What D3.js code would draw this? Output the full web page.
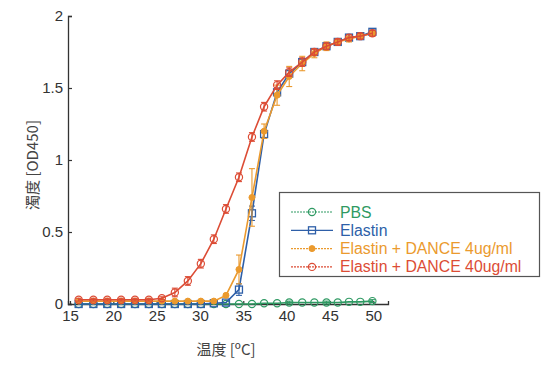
<!DOCTYPE html>
<html>
<head>
<meta charset="utf-8">
<script src="https://cdn.jsdelivr.net/npm/d3@7"></script>
<style>
  body { margin: 0; background: #fff; }
  svg { font-family: "Liberation Sans", Arial, sans-serif; }
</style>
</head>
<body>
<div id="chart"></div>
<script>
// temperature steps (°C)
const temps = [16, 17.7, 19.3, 20.9, 22.5, 24.1, 25.6, 27.1, 28.6, 30.1, 31.6, 33.0,
               34.5, 36.0, 37.4, 38.9, 40.3, 41.8, 43.2, 44.6, 45.9, 47.2, 48.5, 49.9];

const pbs = [0, 0, 0, 0, 0, 0, 0, 0, 0, 0, 0, 0,
             0, 0, 0.005, 0.005, 0.01, 0.01, 0.01, 0.01, 0.01, 0.015, 0.015, 0.02];
const pbsErr = [0, 0, 0, 0, 0, 0, 0, 0, 0, 0, 0, 0,
                0, 0, 0, 0, 0.01, 0, 0, 0.01, 0, 0, 0, 0.01];

const elastin = [0, 0, 0, 0, 0, 0, 0, 0, 0, 0, 0.005, 0.01,
                 0.1, 0.63, 1.18, 1.47, 1.6, 1.68, 1.75, 1.79, 1.82, 1.85, 1.86, 1.89];
const elastinErr = [0, 0, 0, 0, 0, 0, 0, 0, 0, 0, 0, 0,
                    0.04, 0.05, 0.03, 0.03, 0.02, 0.02, 0.02, 0.02, 0.02, 0.02, 0.02, 0.02];

const dance4 = [0.02, 0.02, 0.02, 0.02, 0.02, 0.02, 0.02, 0.02, 0.02, 0.02, 0.02, 0.06,
                0.24, 0.74, 1.2, 1.45, 1.58, 1.67, 1.74, 1.79, 1.82, 1.84, 1.86, 1.88];
const dance4Err = [0, 0, 0, 0, 0, 0, 0, 0, 0, 0, 0.01, 0.01,
                   0.1, 0.2, 0.05, 0.07, 0.07, 0.05, 0.03, 0.03, 0.02, 0.02, 0.02, 0.02];

const dance40 = [0.03, 0.03, 0.03, 0.03, 0.03, 0.03, 0.04, 0.08, 0.16, 0.28, 0.45, 0.66,
                 0.88, 1.16, 1.37, 1.52, 1.61, 1.68, 1.75, 1.79, 1.82, 1.85, 1.86, 1.88];
const dance40Err = [0.01, 0.01, 0.01, 0.01, 0.01, 0.01, 0.01, 0.03, 0.03, 0.03, 0.03, 0.03,
                    0.03, 0.03, 0.03, 0.03, 0.03, 0.03, 0.02, 0.02, 0.02, 0.02, 0.02, 0.02];

const xTicks = [15, 20, 25, 30, 35, 40, 45, 50];
const yTicks = [0, 0.5, 1, 1.5, 2];

const series = [
    { name: 'PBS', values: pbs, err: pbsErr, color: '#2f9a63', marker: 'circle' },
    { name: 'Elastin', values: elastin, err: elastinErr, color: '#2e5fa8', marker: 'square' },
    { name: 'Elastin + DANCE 4ug/ml', values: dance4, err: dance4Err, color: '#eb9a2e', marker: 'dot' },
    { name: 'Elastin + DANCE 40ug/ml', values: dance40, err: dance40Err, color: '#dc4c35', marker: 'circle' }
];

const width = 543, height = 366;
const svg = d3.select('#chart').append('svg')
    .attr('width', width)
    .attr('height', height);

const x = d3.scaleLinear().domain([14.77, 51.7]).range([68, 388]);
const y = d3.scaleLinear().domain([0, 2]).range([304, 16]);

// axes
const xAxis = svg.append('g')
    .attr('transform', `translate(0,${y(0)})`)
    .call(d3.axisBottom(x).tickValues(xTicks).tickSize(-3).tickPadding(6).tickFormat(d3.format('d')));
const yAxis = svg.append('g')
    .attr('transform', `translate(${x.range()[0]},0)`)
    .call(d3.axisLeft(y).tickValues(yTicks).tickSize(-4).tickPadding(5).tickFormat(d => d));

[xAxis, yAxis].forEach(g => {
    g.select('.domain').attr('stroke', '#333').attr('stroke-width', 1.3);
    g.selectAll('.tick line').attr('stroke', '#333').attr('stroke-width', 1.2);
    g.selectAll('.tick text').attr('fill', '#333').attr('font-size', '15px')
        .attr('font-family', '"Liberation Sans", Arial, sans-serif');
});

// axis titles
svg.append('text')
    .attr('x', 226)
    .attr('y', 355)
    .attr('text-anchor', 'middle')
    .attr('fill', '#444')
    .attr('font-size', '15px')
    .attr('font-family', '"Noto Sans CJK JP", "Liberation Sans", sans-serif')
    .text('温度 [ºC]');

svg.append('text')
    .attr('transform', 'translate(38,165) rotate(-90)')
    .attr('text-anchor', 'middle')
    .attr('fill', '#444')
    .attr('font-size', '15px')
    .attr('font-family', '"Noto Sans CJK JP", "Liberation Sans", sans-serif')
    .text('濁度 [OD450]');

const line = d3.line()
    .x(d => x(d.t))
    .y(d => y(d.v));

function drawMarker(g, s, cx, cy) {
    if (s.marker === 'square') {
        g.append('rect')
            .attr('x', cx - 3.5).attr('y', cy - 3.5)
            .attr('width', 7).attr('height', 7)
            .attr('fill', 'none')
            .attr('stroke', s.color)
            .attr('stroke-width', 1.3);
    } else if (s.marker === 'dot') {
        g.append('circle')
            .attr('cx', cx).attr('cy', cy).attr('r', 3)
            .attr('fill', s.color)
            .attr('stroke', s.color);
    } else {
        g.append('circle')
            .attr('cx', cx).attr('cy', cy).attr('r', 3.6)
            .attr('fill', 'none')
            .attr('stroke', s.color)
            .attr('stroke-width', 1.2);
    }
}

series.forEach(s => {
    const pts = temps.map((t, i) => ({ t: t, v: s.values[i], e: s.err[i] }));
    const g = svg.append('g');

    g.append('path')
        .datum(pts)
        .attr('fill', 'none')
        .attr('stroke', s.color)
        .attr('stroke-width', 1.6)
        .attr('d', line);

    // error bars
    pts.filter(d => d.e > 0).forEach(d => {
        const cx = x(d.t);
        const y1 = y(d.v + d.e), y2 = y(d.v - d.e);
        g.append('line')
            .attr('x1', cx).attr('x2', cx)
            .attr('y1', y1).attr('y2', y2)
            .attr('stroke', s.color).attr('stroke-width', 1.1);
        [y1, y2].forEach(yy => {
            g.append('line')
                .attr('x1', cx - 3).attr('x2', cx + 3)
                .attr('y1', yy).attr('y2', yy)
                .attr('stroke', s.color).attr('stroke-width', 1.1);
        });
    });

    pts.forEach(d => drawMarker(g, s, x(d.t), y(d.v)));
});

// legend
const legend = svg.append('g');
legend.append('rect')
    .attr('x', 279.5).attr('y', 192.5)
    .attr('width', 260).attr('height', 84)
    .attr('fill', '#fff')
    .attr('stroke', '#555')
    .attr('stroke-width', 1.2);

series.forEach((s, i) => {
    const ly = 212 + i * 18.3;
    legend.append('line')
        .attr('x1', 291).attr('x2', 333)
        .attr('y1', ly).attr('y2', ly)
        .attr('stroke', s.color)
        .attr('stroke-width', 1.2)
        .attr('stroke-dasharray', s.marker === 'square' ? null : '2,1');
    drawMarker(legend, s, 312, ly);
    legend.append('text')
        .attr('x', 340)
        .attr('y', ly + 5.5)
        .attr('fill', s.color)
        .attr('font-size', '15.8px')
        .text(s.name);
});
</script>
</body>
</html>
